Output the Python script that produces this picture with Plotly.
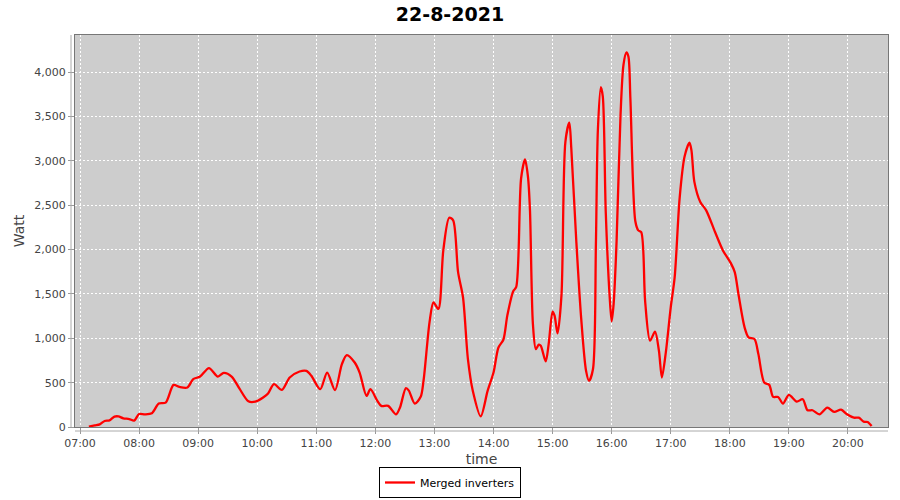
import plotly.graph_objects as go

times = ["07:09","07:15","07:20","07:25","07:30","07:35","07:39","07:44","07:50","07:55",
         "08:00","08:06","08:13","08:20","08:27","08:35","08:41","08:49","08:55",
         "09:02","09:11","09:20","09:26","09:34","09:42","09:51","09:58",
         "10:06","10:11","10:17","10:25","10:33","10:43","10:50","10:55",
         "11:04","11:11","11:19","11:26","11:31","11:39","11:44","11:51","11:55",
         "12:02","12:06","12:13","12:21","12:25","12:31","12:34","12:40","12:46","12:49","12:55","12:59",
         "13:04","13:09","13:15","13:19","13:24","13:29","13:34","13:39","13:47","13:54",
         "14:00","14:05","14:10","14:14","14:20","14:23","14:28","14:32","14:35","14:37","14:40","14:43","14:46","14:48","14:53","14:56",
         "15:00","15:02","15:05","15:09","15:13","15:17","15:19","15:24","15:29","15:34","15:37","15:41","15:44","15:46","15:49","15:51","15:54","15:58",
         "16:00","16:02","16:05","16:09","16:12","16:15","16:17","16:19","16:24","16:27","16:30","16:34","16:39","16:44","16:48","16:51","16:55",
         "17:00","17:04","17:09","17:14","17:19","17:21","17:24","17:30","17:36","17:45","17:53",
         "18:01","18:05","18:09","18:15","18:19","18:25","18:29","18:35","18:40","18:44","18:49","18:54",
         "19:00","19:08","19:14","19:19","19:24","19:31","19:39","19:46","19:53","19:59",
         "20:06","20:11","20:16","20:20","20:24"]

watts = [5,19,30,68,75,117,120,98,90,72,
         147,143,155,264,275,475,452,445,540,
         569,664,569,611,569,432,290,286,
         332,377,483,418,558,626,633,577,
         426,614,415,709,811,727,614,351,426,
         294,238,238,143,220,438,410,264,340,530,1180,1406,
         1331,1991,2360,2330,1746,1463,766,407,121,407,
         614,897,984,1256,1531,1576,2802,3017,2820,2450,1162,879,928,916,739,935,
         1301,1256,1056,1482,3216,3431,3141,2112,1230,633,520,652,2067,3348,3831,3725,2424,1463,
         1191,1388,2096,3518,4084,4223,4178,3707,2322,2217,2198,1418,973,1075,860,558,841,
         1350,1689,2576,3046,3205,3122,2764,2537,2443,2198,1991,
         1848,1746,1482,1124,1011,992,822,501,475,339,339,264,
         362,286,313,189,189,143,219,170,196,143,
         105,105,60,57,11]

date = "2021-08-22"
x = [f"{date} {t}" for t in times]

title_text = "22-8-2021"
series_name = "Merged inverters"
x_title = "time"
y_title = "Watt"

fig = go.Figure()
fig.add_trace(go.Scatter(
    x=x, y=watts, mode="lines", name=series_name,
    line=dict(color="#FF0000", width=2.3, shape="spline", smoothing=0.8),
))

axis_font = dict(family="DejaVu Sans", size=11, color="#444444")
fig.update_layout(
    width=900, height=500,
    paper_bgcolor="white", plot_bgcolor="#CDCDCD",
    margin=dict(l=75, r=12, t=35, b=73, autoexpand=False),
    title=dict(text=title_text, x=0.5, xanchor="center", y=1 - 14 / 500, yanchor="middle",
               yref="container",
               font=dict(family="DejaVu Sans", size=19, color="black", weight="bold")),
    showlegend=True,
    legend=dict(orientation="h", x=0.5, xanchor="center", xref="container",
                y=0.004, yanchor="bottom", yref="container",
                bordercolor="black", borderwidth=1, bgcolor="white",
                font=dict(family="DejaVu Sans", size=11, color="black"),
                itemwidth=30, tracegroupgap=0),
)
fig.update_xaxes(
    type="date", automargin=False,
    range=[f"{date} 06:54:55", f"{date} 20:40:40"],
    dtick=3600000, tick0=f"{date} 07:00", tickformat="%H:%M",
    tickfont=axis_font, ticks="outside", ticklen=6, tickcolor="#999999",
    showgrid=True, gridcolor="white", griddash="2px,2px", gridwidth=1,
    showline=True, linecolor="#777777", linewidth=1, mirror=True,
    zeroline=False,
    title=dict(text=x_title, font=dict(family="DejaVu Sans", size=14, color="#444444"), standoff=6),
)
fig.update_yaxes(
    range=[0, 4420], dtick=500, tickformat=",", automargin=False,
    tickfont=axis_font, ticks="outside", ticklen=6, tickcolor="#999999",
    showgrid=True, gridcolor="white", griddash="2px,2px", gridwidth=1,
    showline=True, linecolor="#777777", linewidth=1, mirror=True,
    zeroline=False,
    title=dict(text=y_title, font=dict(family="DejaVu Sans", size=14, color="#444444"), standoff=6),
)
# offset axis lines as in the reference
fig.add_shape(type="line", xref="paper", yref="paper", x0=-4 / 813, x1=-4 / 813, y0=0, y1=1,
              line=dict(color="#AAAAAA", width=1))
fig.add_shape(type="line", xref="paper", yref="paper", x0=0, x1=1, y0=-4 / 392, y1=-4 / 392,
              line=dict(color="#AAAAAA", width=1))

fig.write_html("out.html", config={"displayModeBar": False},
               post_script="document.body.style.margin='0';")
